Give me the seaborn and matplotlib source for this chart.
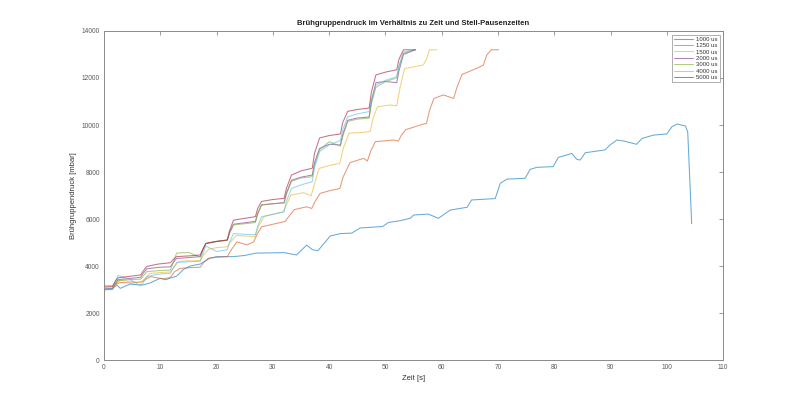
import numpy as np
import pandas as pd
import matplotlib
matplotlib.use("Agg")
import matplotlib.pyplot as plt
from matplotlib.lines import Line2D
import seaborn as sns

# legend labels (Stell-Pausenzeiten)
labels = ["1000 us", "1250 us", "1500 us", "2000 us", "3000 us", "4000 us", "5000 us"]
colors = ["#0072BD", "#D95319", "#EDB120", "#7E2F8E", "#77AC30", "#4DBEEE", "#A2142F"]

# common time knots of the four fast runs [s]
t_fast = [0, 1.5, 2.0, 2.5, 4.5, 6.5, 7.0, 7.6, 9.5, 11.8, 12.3, 12.9, 15, 17.1, 17.5, 18.1,
          20, 21.9, 22.3, 23.0, 25, 26.9, 27.3, 28.0, 30, 32.0, 32.4, 33.3, 35, 37.0, 37.4, 38.3,
          40, 42.0, 42.4, 43.3, 45, 47.1, 47.5, 48.3, 50, 52.0, 52.4, 53.2, 55.3]
p_5000 = [3150, 3150, 3350, 3500, 3560, 3620, 3800, 3980, 4080, 4140, 4280, 4400, 4430, 4470, 4700, 4970,
          5050, 5110, 5500, 5950, 6030, 6100, 6450, 6750, 6830, 6880, 7300, 7870, 8050, 8160, 8800, 9450,
          9550, 9620, 10100, 10580, 10660, 10720, 11400, 12130, 12250, 12350, 12800, 13200, 13200]
p_2000 = [3050, 3050, 3250, 3420, 3470, 3520, 3700, 3880, 3940, 3970, 4150, 4320, 4360, 4400, 4650, 4950,
          5040, 5100, 5400, 5780, 5840, 5900, 6250, 6600, 6650, 6700, 7100, 7650, 7780, 7870, 8400, 9000,
          9180, 9150, 9600, 10200, 10300, 10340, 11000, 11800, 11850, 11800, 12300, 13000, 13200]
p_3000 = [3000, 3000, 3200, 3380, 3420, 3440, 3580, 3760, 3800, 3830, 4150, 4550, 4580, 4380, 4650, 4960,
          5050, 5100, 5400, 5750, 5800, 5850, 6200, 6600, 6650, 6680, 7050, 7600, 7750, 7800, 8300, 8950,
          9290, 9100, 9500, 10150, 10250, 10290, 10900, 11600, 11850, 12000, 12500, 13050, 13200]
p_4000 = [3000, 3050, 3350, 3600, 3450, 3150, 3300, 3550, 3650, 3690, 3900, 4150, 4180, 4200, 4500, 4850,
          4620, 4690, 5000, 5380, 5350, 5330, 5700, 6100, 6200, 6300, 6750, 7300, 7450, 7590, 8200, 8870,
          9150, 9340, 9800, 10350, 10470, 10570, 11100, 11700, 11900, 12060, 12500, 13100, 13200]

t_1500 = [0, 1.5, 2.0, 2.8, 4.5, 6.5, 7.2, 8.2, 10, 11.8, 12.4, 13.3, 15, 17.1, 17.6, 18.6, 20, 21.9,
          22.4, 23.5, 25, 26.8, 27.4, 28.4, 30, 31.8, 32.4, 33.2, 35.4, 36.8, 37.4, 38.2, 40, 41.9,
          42.5, 43.5, 45.5, 47.3, 47.8, 48.6, 50.8, 52.0, 52.6, 53.4, 56.7, 57.3, 57.8, 59.1]
p_1500 = [2980, 3000, 3150, 3380, 3350, 3300, 3450, 3690, 3720, 3750, 3950, 4200, 4220, 4230, 4450, 4720, 4780, 4820,
          5000, 5300, 5280, 5250, 5650, 6100, 6200, 6310, 6600, 7020, 7120, 6990, 7500, 8150, 8280, 8370,
          9000, 9650, 9680, 9720, 10300, 10780, 10850, 10820, 11600, 12400, 12550, 12800, 13200, 13200]

t_1250 = [0, 1.5, 2.2, 3.0, 5, 6.8, 7.5, 8.3, 10.5, 11.8, 12.5, 13.5, 15, 17.1, 17.7, 18.5, 20, 21.9,
          22.5, 23.6, 25.4, 26.6, 27.2, 28.0, 30.7, 32.2, 32.8, 33.8, 36.0, 36.9, 37.5, 38.4, 40, 41.9,
          42.5, 43.7, 46.1, 46.8, 47.4, 48.2, 51.4, 52.3, 52.8, 53.6, 56.2, 57.3, 57.8, 58.6, 60.3, 62.1,
          62.7, 63.6, 66.2, 67.4, 68.0, 68.8, 70.1]
p_1250 = [3100, 3120, 3250, 3300, 3280, 3330, 3450, 3550, 3450, 3520, 3750, 3900, 3930, 3950, 4150, 4330, 4370, 4400,
          4650, 5030, 4900, 5030, 5350, 5670, 5815, 5900, 6100, 6400, 6520, 6450, 6750, 7090, 7200, 7300,
          7800, 8400, 8580, 8470, 8900, 9290, 9360, 9320, 9550, 9800, 10000, 10070, 10600, 11130, 11280, 11130,
          11600, 12150, 12410, 12550, 12980, 13200, 13200]

t_1000 = [0, 1.5, 2.3, 2.9, 4.6, 6.1, 7.0, 8.2, 10.0, 11.0, 11.7, 12.9, 14.1, 15.3, 17.1, 18.8, 20.0,
          23.0, 25.0, 27.0, 30.0, 32.0, 34.2, 36.0, 37.0, 38.0, 40.2, 42.0, 44.0, 45.5, 49.5, 50.5,
          52.6, 54.4, 55.0, 57.6, 59.4, 61.5, 64.5, 65.3, 69.5, 70.4, 71.6, 74.8, 75.7, 76.9, 79.8,
          80.7, 83.1, 84.0, 84.6, 85.5, 89.0, 89.9, 91.1, 92.3, 94.6, 95.6, 97.6, 100.0, 100.9, 101.8,
          103.3, 103.7, 104.4]
p_1000 = [2980, 3050, 3190, 3050, 3230, 3200, 3200, 3280, 3480, 3420, 3480, 3570, 3850, 4000, 4085, 4330, 4400,
          4400, 4450, 4550, 4560, 4570, 4470, 4890, 4700, 4650, 5280, 5380, 5400, 5620, 5680, 5850,
          5930, 6030, 6170, 6210, 6030, 6380, 6500, 6810, 6870, 7520, 7700, 7730, 8110, 8200, 8230,
          8620, 8790, 8540, 8510, 8820, 8940, 9150, 9360, 9320, 9180, 9430, 9570, 9620, 9930, 10040,
          9960, 9700, 5800]

runs = [(t_1000, p_1000), (t_1250, p_1250), (t_1500, p_1500), (t_fast, p_2000),
        (t_fast, p_3000), (t_fast, p_4000), (t_fast, p_5000)]

frames = []
for lab, (t, p) in zip(labels, runs):
    frames.append(pd.DataFrame({"Zeit": t, "Druck": p, "Pause": lab}))
df = pd.concat(frames, ignore_index=True)

sns.set_style("white")
plt.rcParams["font.family"] = ["Liberation Sans", "DejaVu Sans"]

axis_col = "#8a8a8a"
text_col = "#5a5a5a"

fig = plt.figure(figsize=(8, 4.05), dpi=100)
ax = fig.add_axes([0.13, 0.111, 0.774, 0.8125])

sns.lineplot(data=df, x="Zeit", y="Druck", hue="Pause", palette=colors, sort=False,
             estimator=None, linewidth=0.75, alpha=0.6, legend=False, ax=ax)

ax.set_xlim(0, 110)
ax.set_ylim(0, 14000)
ax.set_xticks(np.arange(0, 111, 10))
ax.set_yticks(np.arange(0, 14001, 2000))
ax.tick_params(direction="in", length=3, width=0.6, labelsize=4.8, color=axis_col,
               labelcolor=text_col, top=True, right=True, pad=3)
for s in ax.spines.values():
    s.set_color(axis_col)
    s.set_linewidth(0.7)

ax.set_title("Brühgruppendruck im Verhältnis zu Zeit und Stell-Pausenzeiten",
             fontsize=5.5, fontweight="bold", pad=4, color="#222222")
ax.set_xlabel("Zeit [s]", fontsize=5.5, labelpad=3, color="#333333")
ax.set_ylabel("Brühgruppendruck [mbar]", fontsize=5.5, labelpad=3, color="#333333")

handles = [Line2D([], [], color=c, lw=0.75, alpha=0.6) for c in colors]
leg = ax.legend(handles, labels, loc="upper right", fontsize=4.3, frameon=True, fancybox=False,
                edgecolor=axis_col, handlelength=3.2, labelspacing=0.2,
                borderpad=0.35, borderaxespad=0.6, handletextpad=0.5)
leg.get_frame().set_linewidth(0.6)
for txt in leg.get_texts():
    txt.set_color("#333333")

fig.savefig("out.png", dpi=100, facecolor="white")
